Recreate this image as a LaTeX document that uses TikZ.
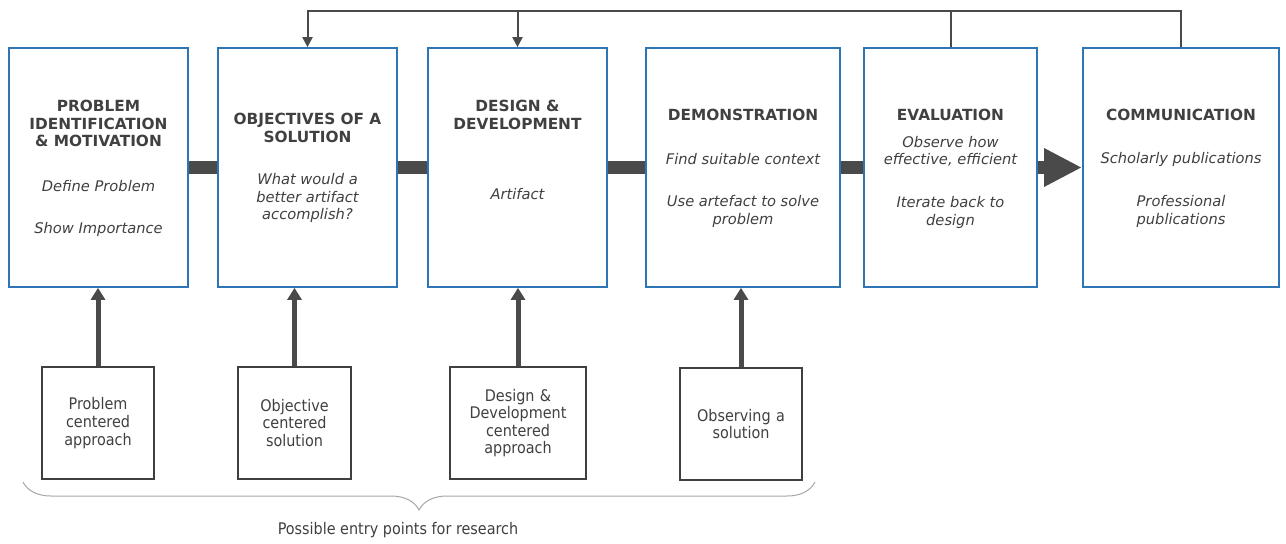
\documentclass[tikz,border=0pt]{standalone}
\usepackage{fontspec}
\setmainfont{DejaVu Sans}
\newfontfamily\condfont{DejaVu Sans Condensed}
\usetikzlibrary{arrows.meta,decorations.pathreplacing}
\definecolor{boxblue}{HTML}{2E75B6}
\definecolor{ink}{HTML}{404040}
\definecolor{barc}{HTML}{4A4A4A}
\tikzset{stage/.style={draw=boxblue,line width=1.5pt,minimum height=179pt,inner sep=0pt},
entry/.style={draw=ink,line width=1.5pt,minimum height=84pt,inner sep=0pt,text width=#1,align=center,font=\condfont\fontsize{12}{13.2}\selectfont},
ttl/.style={font=\bfseries\fontsize{11.5}{13.1}\selectfont,align=center},
txt/.style={font=\itshape\fontsize{11}{12.9}\selectfont,align=center},
bar/.style={draw=barc,line width=9.75pt},
up/.style={draw=barc,line width=3.75pt,-{Triangle[length=9pt,width=10.5pt]}},
fb/.style={draw=barc,line width=1.5pt}}

\begin{document}
\begin{tikzpicture}[x=0.75pt,y=-0.75pt,text=ink]
\useasboundingbox (0,0) rectangle (1286,543);
% process steps
\node[stage,minimum width=134.25pt](prob) at (98.5,167.5){};
\node[stage,minimum width=134.25pt](obj) at (307.5,167.5){};
\node[stage,minimum width=134.25pt](des) at (517.5,167.5){};
\node[stage,minimum width=145.5pt](demo) at (743,167.5){};
\node[stage,minimum width=129.75pt](eval) at (950.5,167.5){};
\node[stage,minimum width=147pt](comm) at (1181,167.5){};
\node[ttl](probT) at (98.5,123.5){PROBLEM\\IDENTIFICATION\\\& MOTIVATION};
\node[txt](probA) at (98.5,186){Define Problem};
\node[txt](probB) at (98.5,229){Show Importance};
\node[ttl](objT) at (307.5,128){OBJECTIVES OF A\\SOLUTION};
\node[txt](objA) at (307.5,198){What would a\\better artifact\\accomplish?};
\node[ttl](desT) at (517.5,115){DESIGN \&\\DEVELOPMENT};
\node[txt](desA) at (517.5,194){Artifact};
\node[ttl](demoT) at (743,115){DEMONSTRATION};
\node[txt](demoA) at (743,159){Find suitable context};
\node[txt](demoB) at (743,211.5){Use artefact to solve\\problem};
\node[ttl](evalT) at (950.5,115){EVALUATION};
\node[txt](evalA) at (950.5,151.5){Observe how\\effective, efficient};
\node[txt](evalB) at (950.5,212.5){Iterate back to\\design};
\node[ttl](commT) at (1181,115){COMMUNICATION};
\node[txt](commA) at (1181,159){Scholarly publications};
\node[txt](commB) at (1181,211.5){Professional\\publications};
% entry points
\node[entry=84pt](e1) at (98,423){Problem\\centered\\approach};
\node[entry=84.75pt](e2) at (294.5,423){Objective\\centered\\solution};
\node[entry=102pt](e3) at (518,423){Design \&\\Development\\centered\\approach};
\node[entry=91.5pt](e4) at (741,424){Observing a\\solution};
\draw[bar](prob)--(obj)(obj)--(des)(des)--(demo)(demo)--(eval);
\draw[bar,-{Triangle[length=28.5pt,width=27pt]}](eval)--(comm);
\draw[up](e1)--(e1.north|-prob.south);
\draw[up](e2)--(e2.north|-obj.south);
\draw[up](e3)--(e3.north|-des.south);
\draw[up](e4)--(e4.north|-demo.south);
% feedback loop
\coordinate(top) at (0,11);
\draw[fb,-{Triangle[length=7.5pt,width=7.5pt]}](comm.north)|-(obj.north|-top)--(obj.north);
\draw[fb](eval.north)--(eval.north|-top);
\draw[fb,-{Triangle[length=7.5pt,width=7.5pt]}](des.north|-top)--(des.north);
% brace
\coordinate(brL) at (23,482);
\coordinate(brR) at (815,482);
\draw[decorate,decoration={brace,mirror,amplitude=21pt},draw=gray!70,line width=0.75pt](brL)--(brR);
\node[font=\condfont\fontsize{12}{13}\selectfont](note) at (398,530){Possible entry points for research};
\end{tikzpicture}
\end{document}
